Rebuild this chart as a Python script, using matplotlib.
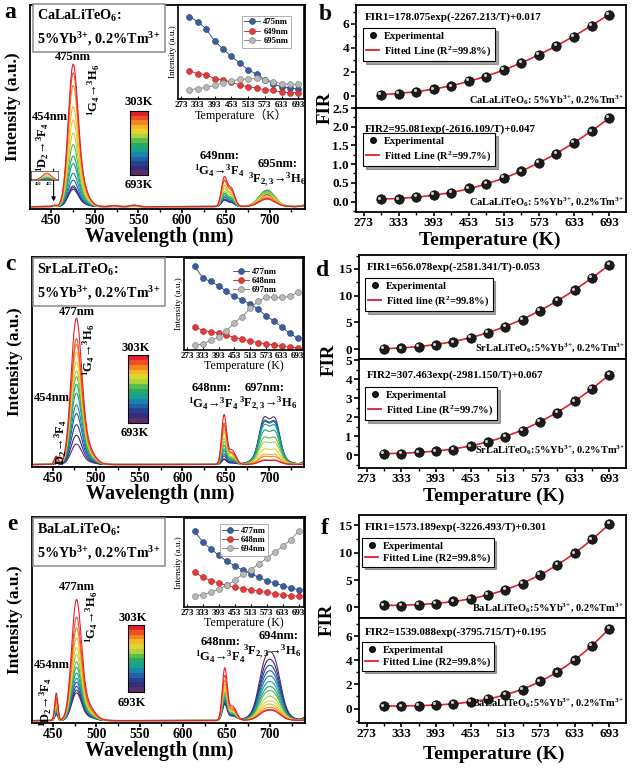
import numpy as np
import matplotlib
matplotlib.use("Agg")
import matplotlib.pyplot as plt
from matplotlib.colors import LinearSegmentedColormap, Normalize
from matplotlib.ticker import MultipleLocator, FixedLocator
from matplotlib.transforms import offset_copy
from matplotlib.lines import Line2D

plt.rcParams['font.family'] = ['Liberation Serif', 'DejaVu Serif', 'Noto Sans CJK SC']
plt.rcParams['font.weight'] = 'bold'
plt.rcParams['mathtext.fontset'] = 'custom'
plt.rcParams['mathtext.rm'] = 'Liberation Serif:bold'
plt.rcParams['mathtext.it'] = 'Liberation Serif:bold:italic'
plt.rcParams['mathtext.bf'] = 'Liberation Serif:bold'
plt.rcParams['mathtext.default'] = 'rm'
plt.rcParams['axes.linewidth'] = 1.3

W, H = 636, 768

# ── data ──────────────────────────────────────────────────────────────────────
TEMPS = [303, 333, 363, 393, 423, 453, 483, 513, 543, 573, 603, 633, 663, 693]

# inset intensities (a.u.)
INS_A_475 = [2.48, 2.33, 2.11, 1.74, 1.51, 1.28, 1.08, 0.88, 0.75, 0.58, 0.46, 0.36, 0.33, 0.30]
INS_A_649 = [0.85, 0.76, 0.73, 0.61, 0.58, 0.51, 0.42, 0.37, 0.33, 0.28, 0.26, 0.21, 0.19, 0.19]
INS_A_695 = [0.28, 0.31, 0.35, 0.41, 0.48, 0.55, 0.59, 0.60, 0.62, 0.58, 0.52, 0.46, 0.44, 0.44]

INS_C_477 = [2.50, 2.15, 2.05, 1.92, 1.75, 1.60, 1.50, 1.37, 1.22, 1.02, 0.87, 0.68, 0.50, 0.35]
INS_C_648 = [0.70, 0.58, 0.55, 0.50, 0.45, 0.37, 0.32, 0.27, 0.22, 0.19, 0.15, 0.12, 0.08, 0.07]
INS_C_697 = [0.15, 0.17, 0.30, 0.38, 0.57, 0.82, 1.00, 1.25, 1.45, 1.58, 1.58, 1.57, 1.60, 1.73]

INS_E_477 = [2.27, 1.94, 1.74, 1.55, 1.37, 1.24, 1.10, 1.00, 0.89, 0.79, 0.72, 0.64, 0.57, 0.52]
INS_E_648 = [1.04, 0.89, 0.79, 0.72, 0.65, 0.59, 0.55, 0.52, 0.47, 0.44, 0.40, 0.37, 0.34, 0.32]
INS_E_694 = [0.34, 0.37, 0.44, 0.54, 0.65, 0.80, 0.99, 1.12, 1.29, 1.47, 1.64, 1.82, 2.02, 2.27]

# emission bands: (centre nm, width nm, height per unit inset intensity, which inset series)
PEAKS_A = [(454, 2.0, 0.0025, 0), (475, 5.5, 0.255, 0), (483, 8.0, 0.048, 0),
           (522, 4.0, 0.002, 0), (545, 4.0, 0.003, 0),
           (648, 3.2, 0.159, 1), (656, 4.0, 0.106, 1),
           (697, 9.0, 0.132, 2), (748, 6.0, 0.04, 2)]
PEAKS_C = [(454, 2.2, 0.016, 0), (477, 6.0, 0.26, 0), (487, 9.0, 0.04, 0),
           (648, 2.8, 0.33, 1), (657, 4.5, 0.10, 1),
           (694, 5.5, 0.095, 2), (707, 5.5, 0.095, 2), (700, 14.0, 0.033, 2),
           (750, 6.0, 0.03, 2)]
PEAKS_E = [(454, 1.8, 0.059, 0), (477, 5.5, 0.24, 0), (487, 9.0, 0.04, 0),
           (648, 2.8, 0.24, 1), (657, 4.5, 0.067, 1),
           (694, 7.0, 0.086, 2), (706, 7.0, 0.086, 2), (700, 15.0, 0.03, 2),
           (750, 6.0, 0.03, 2)]

# FIR values
FIR_B1 = [0.08, 0.17, 0.36, 0.55, 0.80, 1.25, 1.61, 2.16, 2.77, 3.41, 4.16, 4.93, 5.82, 6.76]
FIR_B2 = [0.06, 0.06, 0.12, 0.17, 0.24, 0.35, 0.47, 0.63, 0.81, 1.03, 1.28, 1.57, 1.88, 2.23]
FIR_D1 = [0.08, 0.14, 0.39, 0.70, 1.26, 2.07, 3.01, 4.13, 5.50, 7.18, 9.05, 10.98, 13.28, 15.77]
FIR_D2 = [0.08, 0.08, 0.15, 0.20, 0.29, 0.47, 0.68, 0.98, 1.29, 1.74, 2.24, 2.83, 3.48, 4.23]
FIR_F1 = [0.34, 0.28, 0.46, 0.65, 1.07, 1.56, 2.29, 3.20, 4.30, 5.94, 7.77, 9.90, 12.45, 15.25]
FIR_F2 = [0.19, 0.19, 0.22, 0.28, 0.41, 0.55, 0.80, 1.16, 1.57, 2.26, 3.01, 4.00, 5.20, 6.60]

# fits: FIR = A*exp(B/T)+C
FIT_B1 = (178.075, -2267.213, 0.017)
FIT_B2 = (95.081, -2616.109, 0.047)
FIT_D1 = (656.078, -2581.341, -0.053)
FIT_D2 = (307.463, -2981.150, 0.067)
FIT_F1 = (1573.189, -3226.493, 0.301)
FIT_F2 = (1539.088, -3795.715, 0.195)

CMAP = LinearSegmentedColormap.from_list(
    "temp", ['#e41f2d', '#f05a28', '#f79a1e', '#f4d22b', '#c4da3a', '#62bd4a',
             '#1fa86a', '#14a0a0', '#1c75b3', '#264a9c', '#2b2f7a', '#5b2b6e'])
NORM = Normalize(TEMPS[0], TEMPS[-1])
RED = '#e0202a'
DOPING = '5%Yb$^{3}$$^{+}$, 0.2%Tm$^{3}$$^{+}$'

fig = plt.figure(figsize=(W / 100, H / 100), dpi=100)


def box(l, t, r, b):
    return [l / W, 1 - b / H, (r - l) / W, (b - t) / H]


def ftext(x, y, s, **kw):
    kw.setdefault('ha', 'center')
    kw.setdefault('va', 'center')
    fig.text(x / W, 1 - y / H, s, **kw)


def band_sum(wl, peaks, series, i):
    y = np.zeros_like(wl)
    for c, s, k, j in peaks:
        y += k * series[j][i] * np.exp(-0.5 * ((wl - c) / s) ** 2)
    return y


def spectrum_panel(rect, peaks, series):
    ax = fig.add_axes(box(*rect))
    wl = np.linspace(428, 741, 1400)
    for i in range(len(TEMPS) - 1, -1, -1):
        ax.plot(wl, band_sum(wl, peaks, series, i), color=CMAP(NORM(TEMPS[i])), lw=0.8)
    ax.set_xlim(426, 740.5)
    ax.set_ylim(-0.012, 1.0)
    ax.set_yticks([])
    ax.xaxis.set_major_locator(MultipleLocator(50))
    ax.xaxis.set_minor_locator(MultipleLocator(25))
    ax.tick_params(axis='x', which='major', direction='out', length=3, width=1.2,
                   labelsize=9.8, pad=0.5)
    ax.tick_params(axis='x', which='minor', direction='out', length=2, width=1)
    return ax


def colorbar(rect):
    cax = fig.add_axes(box(*rect))
    cax.imshow(np.array(TEMPS)[:, None], cmap=CMAP, norm=NORM, aspect='auto',
               interpolation='nearest')
    cax.set_xticks([])
    cax.set_yticks([])
    for sp in cax.spines.values():
        sp.set_linewidth(0.8)


def inset_panel(rect, series, labels, ylim, leg_anchor, frame, xlabel):
    ax = fig.add_axes(box(*rect))
    styles = [('#3b5f9e', '#22406e'), ('#e23b3b', '#b02525'), ('#b8b8b8', '#7a7a7a')]
    for vals, lab, (fc, ec) in zip(series, labels, styles):
        ax.plot(TEMPS, vals, '-o', color=ec, lw=0.6, ms=4.3, mfc=fc, mec=ec, mew=0.4,
                label=lab)
    ax.set_xlim(262, 713)
    ax.set_ylim(*ylim)
    ax.set_yticks([])
    ax.set_xticks(np.arange(273, 700, 60))
    ax.tick_params(axis='x', direction='in', length=2, width=0.8, labelsize=6.5, pad=1.5)
    ax.set_xlabel(xlabel, fontsize=8.6, labelpad=0)
    ax.set_ylabel('Intensity (a.u.)', fontsize=6.5, labelpad=1)
    leg = ax.legend(loc='upper right', bbox_to_anchor=leg_anchor, fontsize=6.2,
                    frameon=frame, fancybox=False, edgecolor='0.55', handlelength=1.8,
                    handletextpad=0.4, labelspacing=0.15, borderpad=0.3)
    leg.get_frame().set_linewidth(0.6)
    for sp in ax.spines.values():
        sp.set_linewidth(1.2)
    return ax


def sample_box(x, y, name):
    ftext(x, y, name + ':\n' + DOPING, ha='left', fontsize=10.2,
          linespacing=1.45,
          bbox=dict(boxstyle='square,pad=0.3', fc='white', ec='0.55', lw=1.1))


def fir_axis(rect, vals, fit, ylim, major, minor, formula, fxy, leg_label, lxy,
             sample, sxy, bottom):
    ax = fig.add_axes(box(*rect))
    tt = np.linspace(TEMPS[0], TEMPS[-1], 200)
    ax.plot(tt, fit[0] * np.exp(fit[1] / tt) + fit[2], color=RED, lw=1.2, zorder=2)
    ax.plot(TEMPS, vals, 'o', ms=6.8, mfc='#1c1c1c', mec='#000000', mew=0.5, zorder=3)
    ax.plot(TEMPS, vals, 'o', ms=2.2, color='#cfcfcf', mec='none', zorder=4,
            transform=offset_copy(ax.transData, fig=fig, x=-1.2, y=1.2, units='points'))
    ax.set_xlim(260, 722)
    ax.set_ylim(*ylim)
    ax.yaxis.set_major_locator(MultipleLocator(major))
    ax.yaxis.set_minor_locator(MultipleLocator(minor))
    ax.tick_params(axis='y', which='major', direction='out', length=3.5, width=1.2,
                   labelsize=9.5, pad=1.5)
    ax.tick_params(axis='y', which='minor', direction='out', length=2, width=1)
    if bottom:
        ax.set_xticks(np.arange(273, 700, 60))
        ax.xaxis.set_minor_locator(FixedLocator(np.arange(303, 720, 60)))
        ax.tick_params(axis='x', which='major', direction='out', length=3, width=1.2,
                       labelsize=9.5, pad=0.5)
        ax.tick_params(axis='x', which='minor', direction='out', length=2, width=1)
    else:
        ax.tick_params(axis='x', which='both', bottom=False, labelbottom=False)
    ftext(fxy[0], fxy[1], formula, ha='left', fontsize=7.9)
    ftext(sxy[0], sxy[1], sample + DOPING, ha='right', fontsize=7.5)
    handles = [Line2D([], [], marker='o', ls='none', ms=4, mfc='#1c1c1c', mec='k'),
               Line2D([], [], color=RED, lw=1.3)]
    leg = ax.legend(handles, ['Experimental', leg_label], loc='upper left',
                    bbox_to_anchor=(lxy[0] / W, 1 - lxy[1] / H),
                    bbox_transform=fig.transFigure, borderaxespad=0, fontsize=7.6,
                    frameon=True, fancybox=False, shadow=True, edgecolor='black',
                    handlelength=1.2, handletextpad=0.5, labelspacing=0.3,
                    borderpad=0.3)
    leg.get_frame().set_linewidth(0.8)
    return ax


# ── panel a ───────────────────────────────────────────────────────────────────
ser_a = (INS_A_475, INS_A_649, INS_A_695)
ax_a = spectrum_panel((30, 5, 305, 209), PEAKS_A, ser_a)
ax_a.annotate('', xy=(453, 0.012), xytext=(453, 0.2),
              arrowprops=dict(arrowstyle='-|>', color='black', lw=0.8, mutation_scale=6))
mini = fig.add_axes(box(31, 171, 58, 180))
wl_m = np.linspace(447, 459, 200)
for i in range(len(TEMPS) - 1, -1, -1):
    mini.plot(wl_m, band_sum(wl_m, PEAKS_A[:1], ser_a, i), color=CMAP(NORM(TEMPS[i])), lw=0.4)
mini.set_xlim(447, 459)
mini.set_ylim(0, 0.008)
mini.set_yticks([])
mini.set_xticks([450, 455])
mini.tick_params(axis='x', length=1, width=0.4, labelsize=3.2, pad=0.5)
for sp in mini.spines.values():
    sp.set_linewidth(0.4)
colorbar((130, 111, 148, 175))
inset_panel((178, 5, 304, 99), ser_a, ['475nm', '649nm', '695nm'], (0, 2.83),
            (0.93, 0.93), True, 'Temperature（K）')
sample_box(37, 28, 'CaLaLiTeO$_6$')
ftext(10, 12, 'a', fontsize=17)
ftext(73, 57, '475nm', fontsize=9)
ftext(94, 90, '$^1$G$_4$→$^3$H$_6$', fontsize=9, rotation=90)
ftext(50, 117, '454nm', fontsize=9)
ftext(43, 147, '$^1$D$_2$→$^3$F$_4$', fontsize=9, rotation=90)
ftext(139, 102, '303K', fontsize=9)
ftext(139, 185, '693K', fontsize=9)
ftext(220, 156, '649nm:', fontsize=9)
ftext(219, 171, '$^1$G$_4$→$^3$F$_4$', fontsize=9)
ftext(278, 164, '695nm:', fontsize=9)
ftext(277, 180, '$^3$F$_{2,3}$→$^3$H$_6$', fontsize=9)
ftext(13, 107, 'Intensity (a.u.)', fontsize=12.5, rotation=90)
ftext(159, 237, 'Wavelength (nm)', fontsize=14.5)

# ── panel c ───────────────────────────────────────────────────────────────────
ser_c = (INS_C_477, INS_C_648, INS_C_697)
spectrum_panel((32, 257, 304, 467), PEAKS_C, ser_c)
colorbar((128, 355, 148, 423))
inset_panel((184, 258, 303, 350), ser_c, ['477nm', '648nm', '697nm'], (0, 2.75),
            (0.84, 0.97), False, 'Temperature (K)')
sample_box(37, 282, 'SrLaLiTeO$_6$')
ftext(10, 265, 'c', fontsize=17)
ftext(77, 312, '477nm', fontsize=9)
ftext(89, 350, '$^1$G$_4$→$^3$H$_6$', fontsize=9, rotation=90)
ftext(52, 398, '454nm', fontsize=9)
ftext(61, 444, '$^1$D$_2$→$^3$F$_4$', fontsize=9, rotation=90)
ftext(136, 348, '303K', fontsize=9)
ftext(135, 433, '693K', fontsize=9)
ftext(212, 388, '648nm:', fontsize=9)
ftext(213, 404, '$^1$G$_4$→$^3$F$_4$', fontsize=9)
ftext(265, 388, '697nm:', fontsize=9)
ftext(268, 404, '$^3$F$_{2,3}$→$^3$H$_6$', fontsize=9)
ftext(15, 362, 'Intensity (a.u.)', fontsize=12.5, rotation=90)
ftext(160, 494, 'Wavelength (nm)', fontsize=14.5)

# ── panel e ───────────────────────────────────────────────────────────────────
ser_e = (INS_E_477, INS_E_648, INS_E_694)
spectrum_panel((32, 517, 305, 723), PEAKS_E, ser_e)
colorbar((128, 625, 144, 692))
inset_panel((184, 518, 304, 607), ser_e, ['477nm', '648nm', '694nm'], (0, 2.67),
            (0.74, 0.98), True, 'Temperature (K)')
sample_box(37, 542, 'BaLaLiTeO$_6$')
ftext(12, 525, 'e', fontsize=17)
ftext(77, 587, '477nm', fontsize=9)
ftext(92, 617, '$^1$G$_4$→$^3$H$_6$', fontsize=9, rotation=90)
ftext(52, 665, '454nm', fontsize=9)
ftext(46, 702, '$^1$D$_2$→$^3$F$_4$', fontsize=9, rotation=90)
ftext(133, 618, '303K', fontsize=9)
ftext(132, 703, '693K', fontsize=9)
ftext(221, 642, '648nm:', fontsize=9)
ftext(220, 657, '$^1$G$_4$→$^3$F$_4$', fontsize=9)
ftext(279, 636, '694nm:', fontsize=9)
ftext(272, 652, '$^3$F$_{2,3}$→$^3$H$_6$', fontsize=9)
ftext(15, 620, 'Intensity (a.u.)', fontsize=12.5, rotation=90)
ftext(159, 751, 'Wavelength (nm)', fontsize=14.5)

# ── panel b ───────────────────────────────────────────────────────────────────
fir_axis((356, 5, 626, 108), FIR_B1, FIT_B1, (-1.0, 7.55), 2, 1,
         'FIR1=178.075exp(-2267.213/T)+0.017', (365, 17),
         'Fitted Line (R$^2$=99.8%)', (363, 28), 'CaLaLiTeO$_6$: ', (624, 100), False)
fir_axis((356, 108, 626, 212), FIR_B2, FIT_B2, (-0.28, 2.5), 0.5, 0.25,
         'FIR2=95.081exp(-2616.109/T)+0.047', (365, 129),
         'Fitted Line (R$^2$=99.7%)', (363, 133), 'CaLaLiTeO$_6$: ', (624, 202), True)
ftext(325, 15, 'b', fontsize=17)
ftext(325, 108, 'FIR', fontsize=13.5, rotation=90)
ftext(490, 240, 'Temperature (K)', fontsize=14)

# ── panel d ───────────────────────────────────────────────────────────────────
fir_axis((359, 255, 626, 359), FIR_D1, FIT_D1, (-1.85, 17.6), 5, 2.5,
         'FIR1=656.078exp(-2581.341/T)-0.053', (367, 267),
         'Fitted line (R$^2$=99.8%)', (365, 278), 'SrLaLiTeO$_6$:', (625, 348), False)
fir_axis((359, 359, 626, 468), FIR_D2, FIT_D2, (-0.67, 5.06), 1, 0.5,
         'FIR2=307.463exp(-2981.150/T)+0.067', (367, 375),
         'Fitted Line (R$^2$=99.7%)', (365, 387), 'SrLaLiTeO$_6$:', (625, 450), True)
ftext(323, 270, 'd', fontsize=17)
ftext(329, 360, 'FIR', fontsize=13.5, rotation=90)
ftext(494, 496, 'Temperature (K)', fontsize=14)

# ── panel f ───────────────────────────────────────────────────────────────────
fir_axis((359, 515, 626, 618), FIR_F1, FIT_F1, (-1.95, 16.9), 5, 2.5,
         'FIR1=1573.189exp(-3226.493/T)+0.301', (365, 527),
         'Fitted Line (R2=99.8%)', (362, 538), 'BaLaLiTeO$_6$:', (624, 608), False)
fir_axis((359, 618, 626, 723), FIR_F2, FIT_F2, (-1.2, 7.5), 2, 1,
         'FIR2=1539.088exp(-3795.715/T)+0.195', (365, 632),
         'Fitted Line (R2=99.8%)', (362, 642), 'BaLaLiTeO$_6$:', (624, 703), True)
ftext(325, 528, 'f', fontsize=17)
ftext(327, 620, 'FIR', fontsize=13.5, rotation=90)
ftext(494, 754, 'Temperature (K)', fontsize=14)

fig.savefig('out.png', dpi=100)
